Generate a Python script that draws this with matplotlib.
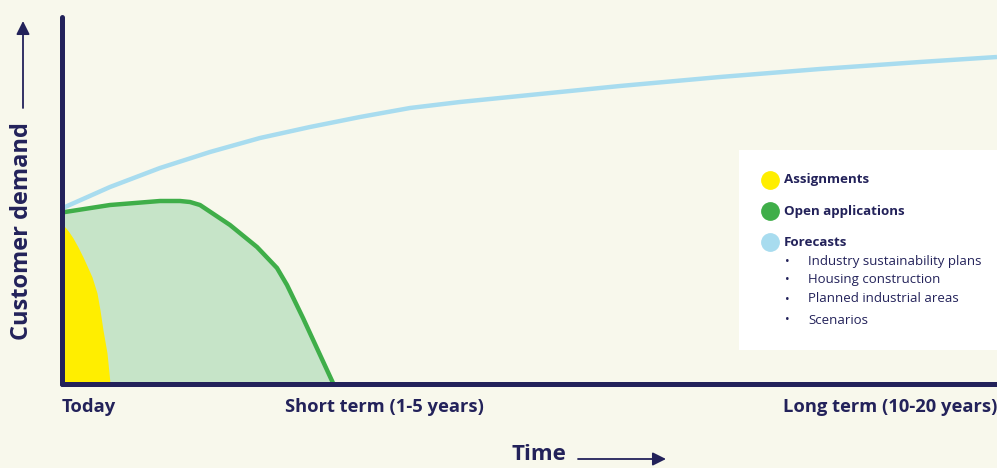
import matplotlib
matplotlib.use("Agg")
import matplotlib.pyplot as plt
from matplotlib.patches import Rectangle, FancyArrowPatch
from matplotlib.lines import Line2D

plt.rcParams['font.family'] = ['Open Sans', 'DejaVu Sans']

# ---- data (x = time, y = customer demand, arbitrary units)
forecast_x = [0, 3, 48, 98, 148, 198, 248, 298, 348, 398, 468, 558, 658, 758, 858, 935]
forecast_y = [175, 177, 197, 216, 232, 246, 257, 267, 276, 282, 289, 298, 307, 315, 322, 327]

open_x = [0, 3, 48, 98, 118, 128, 138, 168, 195, 215, 225, 241, 271]
open_y = [172, 172, 179, 183, 183, 182, 179, 159, 137, 116, 99, 66, 1]

assign_x = [0, 3, 7, 11, 16, 21, 26, 30, 35, 38, 41, 45, 48]
assign_y = [159, 157, 152, 146, 137, 127, 116, 107, 91, 74, 54, 31, 1]

tick_pos = [0, 322, 935]
tick_labels = ["Today", "Short term (1-5 years)", "Long term (10-20 years)"]

legend_items = ["Assignments", "Open applications", "Forecasts"]
forecast_bullets = ["Industry sustainability plans", "Housing construction",
                    "Planned industrial areas", "Scenarios"]

# ---- style
BG = "#f8f8ec"
NAVY = "#23225a"
YELLOW = "#ffee00"
GREEN = "#3fae49"
LIGHTGREEN = "#c6e4c8"
BLUE = "#a8dcef"

W, H = 997, 468
fig = plt.figure(figsize=(W / 100, H / 100), dpi=100, facecolor=BG)
ax = fig.add_axes([62 / W, (H - 384) / H, 935 / W, (384 - 17) / H])
ax.set_facecolor(BG)
ax.set_xlim(0, 935)
ax.set_ylim(0, 367)

ax.fill_between(open_x, open_y, 0, color=LIGHTGREEN, lw=0, zorder=1)
ax.fill_between(assign_x, assign_y, 0, color=YELLOW, lw=0, zorder=2)
ax.plot(forecast_x, forecast_y, color=BLUE, lw=3.2, solid_capstyle='butt',
        solid_joinstyle='round', zorder=3)
ax.plot(open_x, open_y, color=GREEN, lw=3.2, solid_capstyle='butt',
        solid_joinstyle='round', zorder=4)

for s in ['top', 'right']:
    ax.spines[s].set_visible(False)
for s in ['left', 'bottom']:
    ax.spines[s].set_color(NAVY)
    ax.spines[s].set_linewidth(3.6)
    ax.spines[s].set_capstyle('round')
    ax.spines[s].set_zorder(6)

ax.set_yticks([])
ax.set_xticks(tick_pos)
ax.set_xticklabels(tick_labels, fontsize=13.2, fontweight='bold', color=NAVY)
ax.tick_params(axis='x', length=0, pad=10)
labs = ax.get_xticklabels()
labs[0].set_ha('left')
labs[2].set_ha('right')

# axis titles with arrows
fig.text(539 / W, 1 - 455 / H, "Time", fontsize=16, fontweight='bold',
         color=NAVY, ha='center', va='center')
fig.add_artist(FancyArrowPatch((578 / W, 1 - 459 / H), (666 / W, 1 - 459 / H),
                               transform=fig.transFigure, arrowstyle='-|>',
                               mutation_scale=20, color=NAVY, lw=1.3,
                               shrinkA=0, shrinkB=0))
fig.text(22 / W, 1 - 231 / H, "Customer demand", fontsize=17, fontweight='bold',
         color=NAVY, ha='center', va='center', rotation=90)
fig.add_artist(FancyArrowPatch((23 / W, 1 - 108 / H), (23 / W, 1 - 21 / H),
                               transform=fig.transFigure, arrowstyle='-|>',
                               mutation_scale=20, color=NAVY, lw=1.3,
                               shrinkA=0, shrinkB=0))

# legend box
fig.patches.append(Rectangle((739 / W, 1 - 350 / H), (997 - 739) / W, 200 / H,
                             transform=fig.transFigure, facecolor='white',
                             edgecolor='none', zorder=5))
colors = [YELLOW, GREEN, BLUE]
ys = [180, 211, 242]
for lbl, c, y in zip(legend_items, colors, ys):
    fig.add_artist(Line2D([770 / W], [1 - y / H], transform=fig.transFigure,
                          marker='o', markersize=12.5, color=c, lw=0, zorder=6))
    fig.text(784 / W, 1 - y / H, lbl, fontsize=9.6, fontweight='bold', color=NAVY,
             ha='left', va='center', zorder=7)
for txt, y in zip(forecast_bullets, [261, 280, 299, 320]):
    fig.text(787 / W, 1 - y / H, "•", fontsize=9, color=NAVY, ha='center',
             va='center', zorder=7)
    fig.text(808 / W, 1 - y / H, txt, fontsize=9.5, color=NAVY, ha='left',
             va='center', zorder=7)

fig.savefig("out.png", dpi=100, facecolor=BG)
